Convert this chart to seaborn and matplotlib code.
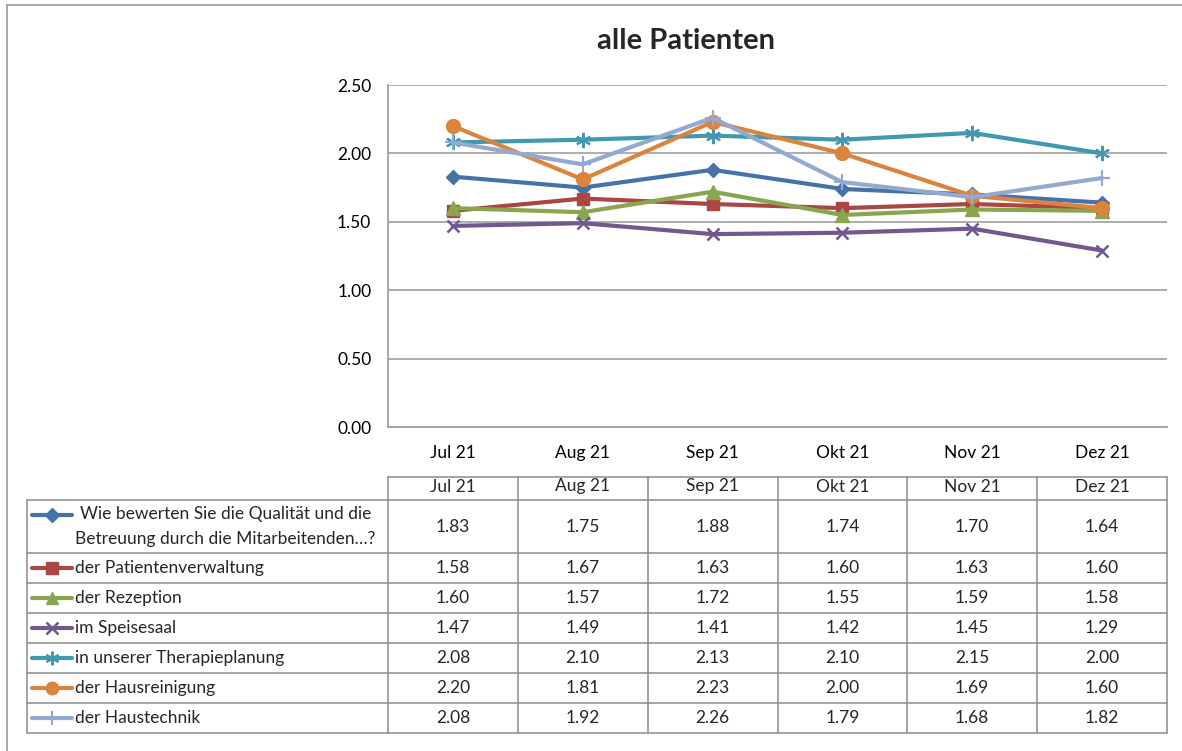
import matplotlib
matplotlib.use("Agg")
import matplotlib.pyplot as plt
from matplotlib.lines import Line2D
import seaborn as sns
import numpy as np

sns.set_theme(style="white")
plt.rcParams['font.family'] = ['Lato', 'DejaVu Sans']

# ---------------- data ----------------
categories = ["Jul 21", "Aug 21", "Sep 21", "Okt 21", "Nov 21", "Dez 21"]
series_names = [
    "Wie bewerten Sie die Qualität und die\nBetreuung durch die Mitarbeitenden…?",
    "der Patientenverwaltung",
    "der Rezeption",
    "im Speisesaal",
    "in unserer Therapieplanung",
    "der Hausreinigung",
    "der Haustechnik",
]
qualitaet = [1.83, 1.75, 1.88, 1.74, 1.70, 1.64]
patientenverwaltung = [1.58, 1.67, 1.63, 1.60, 1.63, 1.60]
rezeption = [1.60, 1.57, 1.72, 1.55, 1.59, 1.58]
speisesaal = [1.47, 1.49, 1.41, 1.42, 1.45, 1.29]
therapieplanung = [2.08, 2.10, 2.13, 2.10, 2.15, 2.00]
hausreinigung = [2.20, 1.81, 2.23, 2.00, 1.69, 1.60]
haustechnik = [2.08, 1.92, 2.26, 1.79, 1.68, 1.82]
series_values = [qualitaet, patientenverwaltung, rezeption, speisesaal,
                 therapieplanung, hausreinigung, haustechnik]
y_ticks = [0.0, 0.5, 1.0, 1.5, 2.0, 2.5]
title = "alle Patienten"

# ---------------- styles ----------------
colors = ["#4572A7", "#AA4643", "#89A54E", "#71588F", "#4198AF", "#DB843D", "#93A9CF"]
asterisk = (6, 2, 0)
markers = ["D", "s", "^", "x", asterisk, "o", "+"]
msizes = [7.5, 9, 9.5, 9, 11, 10, 11]
mews = [1, 1, 1, 1.8, 1.5, 1, 1.5]
FS = 12.5

W, H = 1182, 751
fig = plt.figure(figsize=(W / 100, H / 100), dpi=100)
fig.patch.set_facecolor("white")

# pixel-space overlay for frame and table
ov = fig.add_axes([0, 0, 1, 1], zorder=0)
ov.set_xlim(0, W)
ov.set_ylim(H, 0)
ov.axis("off")

grid_c = "#A0A0A0"
line_c = "#8C8C8C"

# outer frame (left/top visible)
ov.plot([6.5, 6.5], [4.5, H], color=grid_c, lw=1.3)
ov.plot([6.5, W], [4.5, 4.5], color=grid_c, lw=1.3)

# plot area
pl, pr, pt, pb = 388, 1167, 85, 427
ax = fig.add_axes([pl / W, 1 - pb / H, (pr - pl) / W, (pb - pt) / H], zorder=2)
ax.set_facecolor("none")

for name, vals, c, m, ms, mew in zip(series_names, series_values, colors, markers, msizes, mews):
    sns.lineplot(x=categories, y=vals, ax=ax, color=c, lw=3.0, marker=m,
                 markersize=ms, markeredgecolor=c, markerfacecolor=c,
                 markeredgewidth=mew, sort=False, legend=False)

ax.set_xlim(-0.5, len(categories) - 0.5)
ax.set_ylim(y_ticks[0], y_ticks[-1])
ax.set_yticks(y_ticks)
ax.set_yticklabels([f"{v:.2f}" for v in y_ticks])
ax.set_xticks(range(len(categories)))
ax.set_xticklabels(categories)
ax.yaxis.grid(True, color=grid_c, lw=1.2)
ax.xaxis.grid(False)
ax.set_axisbelow(True)
for s in ["right", "top"]:
    ax.spines[s].set_visible(False)
for s in ["left", "bottom"]:
    ax.spines[s].set_color(grid_c)
    ax.spines[s].set_linewidth(1.3)
ax.tick_params(axis="y", length=0, pad=12, labelsize=FS, colors="black")
ax.tick_params(axis="x", length=0, pad=13, labelsize=FS, colors="black")
ax.set_xlabel("")
ax.set_ylabel("")

fig.text(686 / W, 1 - 41 / H, title, ha="center", va="center",
         fontsize=21, fontweight="bold")

# ---------------- data table ----------------
ncol = len(categories)
cw = (pr - pl) / ncol
head_top, head_bot = 477, 500
row_bounds = [500, 553, 583, 613, 643, 673, 703, 733]
tl = 27

# header
ov.plot([pl, pr], [head_top, head_top], color=line_c, lw=1.1)
for i in range(ncol + 1):
    x = pl + i * cw
    ov.plot([x, x], [head_top, row_bounds[-1]], color=line_c, lw=1.1)
for i, cat in enumerate(categories):
    ov.text(pl + (i + 0.5) * cw, (head_top + head_bot) / 2 - 2, cat,
            ha="center", va="center", fontsize=FS)

# rows
ov.plot([tl, tl], [row_bounds[0], row_bounds[-1]], color=line_c, lw=1.1)
for yb in row_bounds:
    ov.plot([tl, pr], [yb, yb], color=line_c, lw=1.1)

for r, (name, vals, c, m, ms, mew) in enumerate(zip(series_names, series_values, colors, markers, msizes, mews)):
    yc = (row_bounds[r] + row_bounds[r + 1]) / 2
    ky = row_bounds[0] + 15 if r == 0 else yc
    ov.add_line(Line2D([32, 72], [ky, ky], color=c, lw=3.0))
    ov.add_line(Line2D([52], [ky], color=c, marker=m, markersize=ms * 0.9,
                       markeredgecolor=c, markerfacecolor=c, markeredgewidth=mew))
    ov.text(75, yc, name, ha="left", va="center", fontsize=FS,
            multialignment="center", linespacing=1.65)
    for i, v in enumerate(vals):
        ov.text(pl + (i + 0.5) * cw, yc, f"{v:.2f}", ha="center", va="center", fontsize=FS)

fig.savefig("out.png", dpi=100, facecolor="white")
